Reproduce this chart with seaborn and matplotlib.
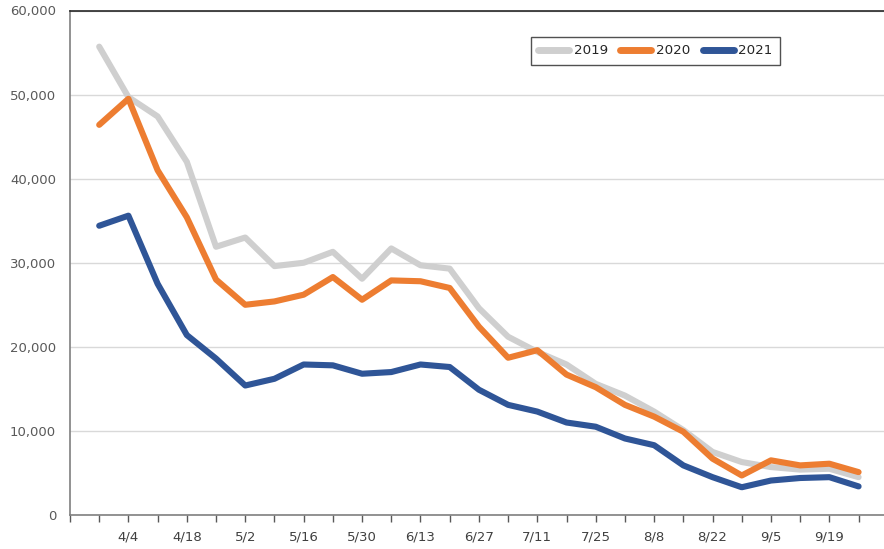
import pandas as pd
import seaborn as sns
from matplotlib import pyplot as plt

weeks = ["3/28", "4/4", "4/11", "4/18", "4/25", "5/2", "5/9", "5/16", "5/23", "5/30",
         "6/6", "6/13", "6/20", "6/27", "7/4", "7/11", "7/18", "7/25", "8/1", "8/8",
         "8/15", "8/22", "8/29", "9/5", "9/12", "9/19", "9/26"]

y2019 = [55700, 49700, 47400, 42000, 31900, 33000, 29600, 30000, 31300, 28100,
         31700, 29700, 29300, 24600, 21200, 19400, 17900, 15600, 14200, 12300,
         10100, 7500, 6300, 5700, 5400, 5500, 4500]
y2020 = [46400, 49500, 41000, 35400, 28000, 25000, 25400, 26200, 28300, 25600,
         27900, 27800, 27000, 22400, 18700, 19600, 16700, 15200, 13100, 11700,
         9900, 6700, 4700, 6500, 5900, 6100, 5100]
y2021 = [34400, 35600, 27500, 21400, 18600, 15400, 16200, 17900, 17800, 16800,
         17000, 17900, 17600, 14900, 13100, 12300, 11000, 10500, 9100, 8300,
         5900, 4500, 3300, 4100, 4400, 4500, 3400]

years = ["2019", "2020", "2021"]
colors = ["#CFCFCF", "#ED7D31", "#2F5597"]


def main():
    rows = []
    for year, vals in zip(years, [y2019, y2020, y2021]):
        for i, v in enumerate(vals):
            rows.append((i, v, year))
    df = pd.DataFrame(rows, columns=["week", "count", "year"])

    sns.set_style("white")
    plt.rcParams["font.family"] = ["DejaVu Sans"]

    fig = plt.figure(figsize=(8.84, 5.49), dpi=100)
    ax = fig.add_axes([70 / 884, 1 - 515 / 549, 1 - 70 / 884, (515 - 10.5) / 549])

    sns.lineplot(data=df, x="week", y="count", hue="year", palette=colors,
                 linewidth=4.4, ax=ax, solid_capstyle="round", solid_joinstyle="round")

    ax.set_xlim(-1, 26.87)
    ax.set_ylim(0, 60000)
    ax.set_yticks(range(0, 60001, 10000))
    ax.set_yticklabels([f"{v:,}" for v in range(0, 60001, 10000)])
    # ticks on every week plus one at the axis start, labels every other week
    ax.set_xticks(range(-1, 27))
    ax.set_xticklabels([weeks[i] if i >= 0 and i % 2 == 1 else "" for i in range(-1, 27)])
    ax.set_xlabel("")
    ax.set_ylabel("")

    ax.yaxis.grid(True, color="#D9D9D9", linewidth=1)
    ax.set_axisbelow(True)
    ax.tick_params(axis="y", length=0, pad=10, labelsize=9.5, labelcolor="#595959")
    ax.tick_params(axis="x", length=5, width=1, color="#595959", direction="out",
                   pad=6, labelsize=9.5, labelcolor="#404040", bottom=True)

    for side in ["left", "bottom"]:
        ax.spines[side].set_color("#7F7F7F")
        ax.spines[side].set_linewidth(1.2)
    ax.spines["top"].set_color("#262626")
    ax.spines["top"].set_linewidth(1.2)
    ax.spines["right"].set_visible(False)

    leg = ax.legend(loc="upper left", bbox_to_anchor=(531 / 884, 1 - 37 / 549),
                    bbox_transform=fig.transFigure, ncol=3, frameon=True, fancybox=False,
                    handlelength=2.3, handletextpad=0.35, columnspacing=0.9,
                    fontsize=9.7, borderpad=0.55, borderaxespad=0)
    leg.get_frame().set_edgecolor("#262626")
    leg.get_frame().set_linewidth(1.0)
    for line in leg.get_lines():
        line.set_linewidth(5)
        line.set_solid_capstyle("round")

    fig.savefig("out.png", dpi=100)


if __name__ == "__main__":
    main()
